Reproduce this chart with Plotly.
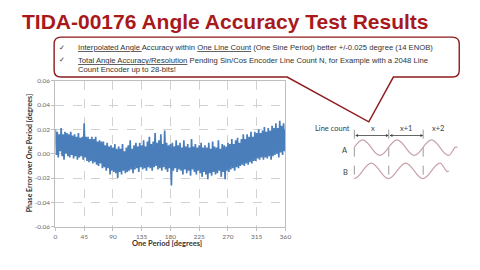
import plotly.graph_objects as go

# ---------------- data ----------------
phase_error = [
    0.020, -0.001, 0.018, -0.003, 0.016, 0.002, 0.021, -0.002, 0.016, -0.005, 0.018, 0.000, 0.017, -0.002,
    0.016, -0.003, 0.018, -0.001, 0.015, -0.004, 0.016, -0.002, 0.014, -0.005, 0.017, -0.003, 0.013, -0.002,
    0.014, -0.005, 0.025, -0.003,
    0.014, -0.006, 0.014, -0.007, 0.012, -0.006, 0.014, -0.008, 0.012, -0.007, 0.014, -0.009, 0.010, -0.010,
    0.011, -0.008,
    0.010, -0.012, 0.010, -0.011, 0.007, -0.014, 0.009, -0.012, 0.006, -0.017, 0.007, -0.014, 0.005,
    -0.015, 0.008, -0.016, 0.004, -0.020, 0.006, -0.015, 0.004, -0.017, 0.008, -0.014, 0.002, -0.016,
    0.005, -0.015, 0.007, -0.014, 0.011, -0.013, 0.004, -0.016, 0.007, -0.013, 0.009, -0.012, 0.006, -0.015,
    0.009, -0.011, 0.007,
    -0.013, 0.011, -0.012, 0.006, -0.014, 0.010, -0.011, 0.014, -0.012, 0.008, -0.014, 0.010, -0.011, 0.017,
    -0.010, 0.009, -0.013,
    0.011, -0.012, 0.016, -0.014, 0.008, -0.011, 0.019, -0.013, 0.009, -0.015, 0.007, -0.012, 0.008, -0.026,
    0.009, -0.014, 0.006, -0.012, 0.011, -0.015, 0.007, -0.013, 0.009, -0.014, 0.005, -0.017, 0.011, -0.013,
    0.006, -0.016, 0.008, -0.014, 0.005, -0.018, 0.012, -0.013, 0.006, -0.015, 0.008, -0.017, 0.005, -0.014,
    0.007,
    -0.016, 0.009, -0.019, 0.005, -0.015, 0.007, -0.017, 0.005, -0.021, 0.009, -0.016, 0.004, -0.018, 0.010,
    -0.015, 0.006, -0.017,
    0.005, -0.016, 0.011, -0.014, 0.004, -0.019, 0.008, -0.015, 0.007, -0.021, 0.006, -0.014, 0.009,
    -0.015, 0.008, -0.013, 0.012, -0.012, 0.008, -0.014, 0.011, -0.011, 0.013, -0.012, 0.009, -0.010,
    0.012, -0.009, 0.016, -0.010, 0.012, -0.008, 0.016, -0.009, 0.014, -0.007, 0.018, -0.008, 0.014, -0.006,
    0.018, -0.006, 0.017,
    -0.004, 0.020, -0.005, 0.017, -0.003, 0.019, -0.005, 0.022, -0.003, 0.018, -0.004, 0.021, -0.002, 0.019,
    -0.005, 0.023, -0.002,
    0.021, -0.001, 0.025, 0.000, 0.021, -0.003, 0.027, 0.001, 0.023, -0.001, 0.025, 0.002, 0.020,
]
period_deg = [round(i * 1.5, 1) for i in range(len(phase_error))]

x_ticks = [0, 45, 90, 135, 180, 225, 270, 315, 360]
y_ticks = [-0.06, -0.04, -0.02, 0.00, 0.02, 0.04, 0.06]
y_tick_labels = ["-0.06", "-0.04", "-0.02", "0.00", "0.02", "0.04", "0.06"]

title_text = "TIDA-00176 Angle Accuracy Test Results"
bullet1 = "<u>Interpolated Angle </u>Accuracy within <u>One Line Count</u> (One Sine Period) better +/-0.025 degree (14 ENOB)"
bullet2a = "<u>Total Angle Accuracy/Resolution</u> Pending Sin/Cos Encoder Line Count N, for Example with a 2048 Line"
bullet2b = "Count Encoder up to 28-bits!"
line_labels = ["x", "x+1", "x+2"]

W, H = 480, 270
RED = "#a8191c"
BLUE = "#4a7ebb"
GRID = "#d2d2d2"
TICKC = "#6a6a6a"


def px(x, y):
    return x / W, 1 - y / H


fig = go.Figure()
fig.add_trace(go.Scatter(
    x=period_deg, y=phase_error, mode="lines",
    line=dict(color=BLUE, width=1.7), showlegend=False, hoverinfo="skip"))

axis_common = dict(
    showline=True, mirror=True, linecolor="#bfbfbf", linewidth=1,
    showgrid=True, gridcolor=GRID, griddash="dash", gridwidth=1,
    zeroline=False, ticks="outside", ticklen=3, tickcolor="#bfbfbf",
    tickfont=dict(family="Lato", size=6.5, color=TICKC),
)
fig.update_xaxes(domain=[54.3 / W, 288.3 / W], range=[0, 360], tickvals=x_ticks, **axis_common)
fig.update_yaxes(domain=[1 - 228.7 / H, 1 - 78.7 / H], range=[-0.06, 0.06],
                 tickvals=y_ticks, ticktext=y_tick_labels, **axis_common)

shapes = []
# callout bubble
r = 7
L, T, R, B = 53, 34, 465, 75
bubble = "M {} L {} Q {} {} L {} Q {} {} L {} L {} L {} L {} Q {} {} L {} Q {} {} Z"
pts = [(L + r, T), (R - r, T), (R, T), (R, T + r), (R, B - r), (R, B), (R - r, B),
       (398, B), (373, 121), (290, B), (L + r, B), (L, B), (L, B - r), (L, T + r), (L, T), (L + r, T)]
pstr = bubble.format(*[",".join(f"{v:.5f}" for v in px(*p)) for p in pts])
shapes.append(dict(type="path", xref="paper", yref="paper", path=pstr,
                   line=dict(color="#8e1b1d", width=1.4), fillcolor="white", layer="above"))

# line count diagram: dashed separators
for xd in [358.3, 393.3, 428.3]:
    x0, y0 = px(xd, 129)
    x1, y1 = px(xd, 181)
    shapes.append(dict(type="line", xref="paper", yref="paper", x0=x0, y0=y0, x1=x1, y1=y1,
                       line=dict(color="#808080", width=0.8, dash="dash")))

# sine-like wave outlines (decorative diagram) as Bezier paths
P = 35.0
h = P / 2
q = P / 4
amp = 8.0
k = 0.3642


def wave_path(x_start, cy, start_kind, segments, end_quarter):
    cmds = []
    s = q / (3.14159 / 2)
    if start_kind == "center_up":
        x, y = x_start, cy
        cmds.append(("M", (x, y)))
        c1 = (x + 0.5123 * s, y - 0.5123 * amp)
        c2 = (x + 1.0066 * s, y - amp)
        x, y = x + q, cy - amp
        cmds.append(("C", c1, c2, (x, y)))
        up = False
    else:
        x, y = x_start, cy + amp
        cmds.append(("M", (x, y)))
        up = True
    for _ in range(segments):
        ny = cy - amp if up else cy + amp
        cmds.append(("C", (x + k * h, y), (x + (1 - k) * h, ny), (x + h, ny)))
        x, y = x + h, ny
        up = not up
    if end_quarter:
        sign = -1 if up else 1
        c1 = (x + (q - 1.0066 * s), y)
        c2 = (x + (q - 0.5123 * s), cy + sign * (amp - 0.5123 * amp))
        cmds.append(("C", c1, c2, (x + q, cy)))
    out = []
    for c in cmds:
        out.append(c[0] + " " + " ".join(",".join(f"{v:.5f}" for v in px(*p)) for p in c[1:]))
    return " ".join(out)


shapes.append(dict(type="path", xref="paper", yref="paper",
                   path=wave_path(358.0, 147.5, "center_up", 5, True),
                   line=dict(color="#c9a3a9", width=1.2)))
shapes.append(dict(type="path", xref="paper", yref="paper",
                   path=wave_path(358.0, 171.3, "trough", 5, True),
                   line=dict(color="#c9a3a9", width=1.2)))

annotations = []
tx, ty = px(18, 17.5)
annotations.append(dict(text=f"<b>{title_text}</b>", x=tx, y=ty, xref="paper", yref="paper",
                        xanchor="left", yanchor="middle", showarrow=False,
                        font=dict(family="Liberation Sans", size=21, color=RED)))

for (txt, yy) in [(bullet1, 45), (bullet2a, 58), (bullet2b, 67)]:
    ax_, ay_ = px(75, yy)
    annotations.append(dict(text=txt, x=ax_, y=ay_, xref="paper", yref="paper",
                            xanchor="left", yanchor="middle", showarrow=False,
                            font=dict(family="Liberation Sans", size=7.7, color="#333333")))
for yy in [45, 58]:
    cx, cy_ = px(61, yy)
    annotations.append(dict(text="✓", x=cx, y=cy_, xref="paper", yref="paper",
                            xanchor="center", yanchor="middle", showarrow=False,
                            font=dict(family="DejaVu Sans", size=7, color="#333333")))

# axis titles
xt, yt = px(168, 246)
annotations.append(dict(text="<b>One Period [degrees]</b>", x=xt, y=yt, xref="paper", yref="paper",
                        xanchor="center", yanchor="middle", showarrow=False,
                        font=dict(family="Lato", size=7.5, color="#333333")))
xt, yt = px(27, 153.7)
annotations.append(dict(text="<b>Phase Error over One Period [degrees]</b>", x=xt, y=yt,
                        xref="paper", yref="paper", textangle=-90,
                        xanchor="center", yanchor="middle", showarrow=False,
                        font=dict(family="Lato", size=7, color="#333333")))

# diagram labels
for txt, (xx, yy) in [("Line count", (336, 128)), ("A", (349, 150.7)), ("B", (349, 173))]:
    a, b = px(xx, yy)
    annotations.append(dict(text=txt, x=a, y=b, xref="paper", yref="paper",
                            xanchor="center", yanchor="middle", showarrow=False,
                            font=dict(family="Lato", size=7.5, color="#404040")))
for txt, xx in zip(line_labels, [377.3, 411, 443]):
    a, b = px(xx, 128.3)
    annotations.append(dict(text=txt, x=a, y=b, xref="paper", yref="paper",
                            xanchor="center", yanchor="middle", showarrow=False,
                            font=dict(family="Lato", size=7.5, color="#404040")))
# double arrows between separators
for x0, x1 in [(358.3, 393.3), (393.3, 428.3)]:
    a, b = px(x1, 135)
    annotations.append(dict(text="", x=a, y=b, xref="paper", yref="paper",
                            ax=-(x1 - x0), ay=0, showarrow=True, arrowside="end+start",
                            arrowhead=2, arrowsize=0.7, arrowwidth=0.8, arrowcolor="#404040",
                            standoff=0, startstandoff=0))

fig.update_layout(
    width=W, height=H, margin=dict(l=0, r=0, t=0, b=0),
    paper_bgcolor="white", plot_bgcolor="white",
    shapes=shapes, annotations=annotations, showlegend=False,
)
fig.write_html("out.html")
